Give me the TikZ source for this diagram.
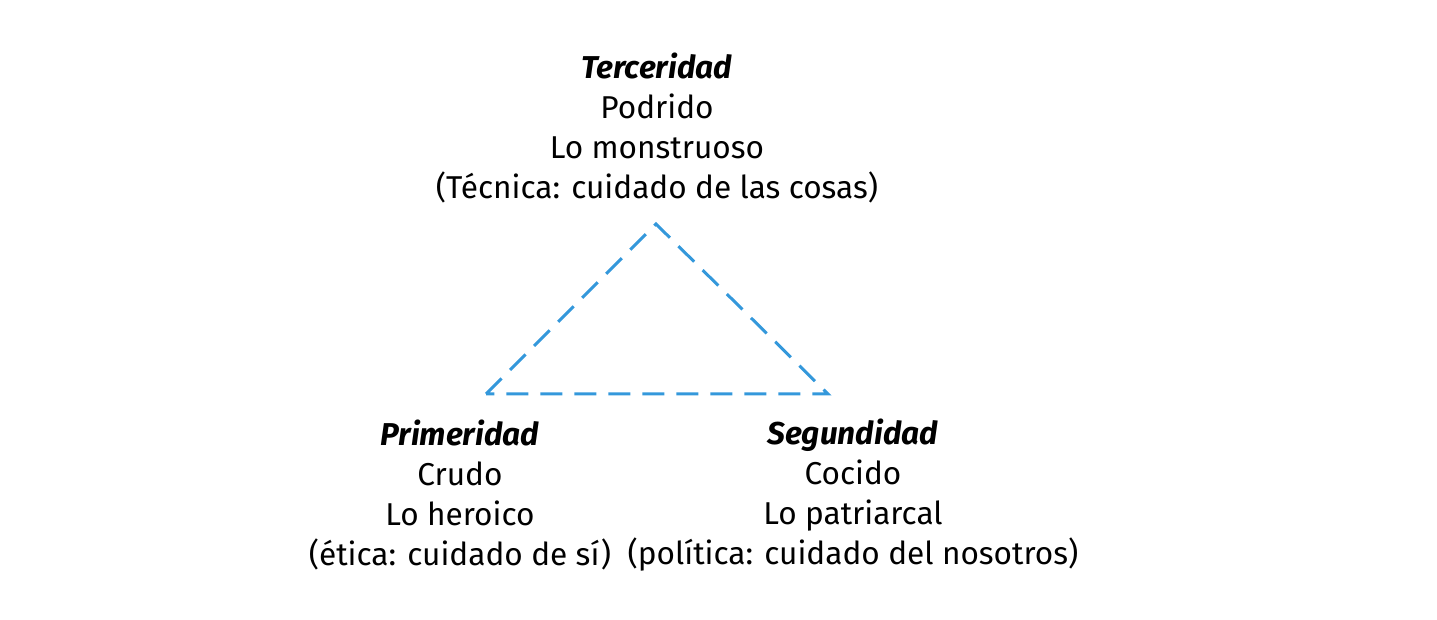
\documentclass[tikz,border=0pt]{standalone}
\usepackage{fontspec}
\setmainfont{Fira Sans}
\definecolor{tri_blue}{RGB}{52, 152, 219}
\tikzstyle{lbl}=[align=center,inner sep=0pt,
  font=\fontsize{15.8}{20}\selectfont]
\tikzstyle{side}=[draw=tri_blue,line width=1.5pt,dash pattern=on 11pt off 6pt]
\begin{document}
\begin{tikzpicture}[x=0.5pt,y=-0.5pt]
    \useasboundingbox (0,0) rectangle (1437,620);
    \coordinate (top) at (656,224);
    \coordinate (left) at (486,394);
    \coordinate (right) at (828,394);
    \draw [style=side] (left) -- (top) -- (right) -- cycle;
    \node [style=lbl] (third) at (657,128) {\textbf{\textit{Terceridad}}\\Podrido\\Lo monstruoso\\(Técnica: cuidado de las cosas)};
    \node [style=lbl] (first) at (460,495) {\textbf{\textit{Primeridad}}\\Crudo\\Lo heroico\\(ética: cuidado de sí)};
    \node [style=lbl] (second) at (853,495) {\textbf{\textit{Segundidad}}\\Cocido\\Lo patriarcal\\(política: cuidado del nosotros)};
  \end{tikzpicture}
\end{document}
